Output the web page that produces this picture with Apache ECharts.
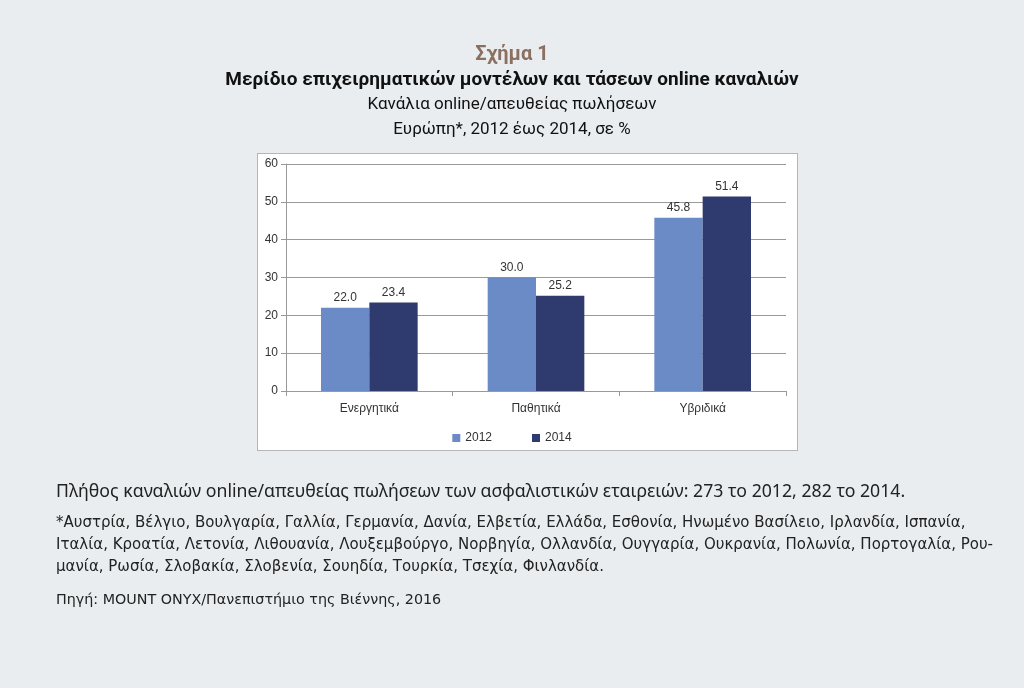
<!DOCTYPE html>
<html><head><meta charset="utf-8">
<script src="https://cdn.jsdelivr.net/npm/echarts@6/dist/echarts.min.js"></script>
<style>html,body{margin:0;padding:0;background:#e9edf0;}#c{width:1024px;height:688px;}</style>
</head><body><div id="c"></div>
<script>
const categories = ['Ενεργητικά', 'Παθητικά', 'Υβριδικά'];
const series2012 = [22.0, 30.0, 45.8];
const series2014 = [23.4, 25.2, 51.4];
const seriesNames = ['2012', '2014'];
const yTicks = {min: 0, max: 60, interval: 10};

const titleLines = [
  'Σχήμα 1',
  'Μερίδιο επιχειρηματικών μοντέλων και τάσεων online καναλιών',
  'Κανάλια online/απευθείας πωλήσεων',
  'Ευρώπη*, 2012 έως 2014, σε %'
];
const noteLine = 'Πλήθος καναλιών online/απευθείας πωλήσεων των ασφαλιστικών εταιρειών: 273 το 2012, 282 το 2014.';
const footLines = [
  '*Αυστρία, Βέλγιο, Βουλγαρία, Γαλλία, Γερμανία, Δανία, Ελβετία, Ελλάδα, Εσθονία, Ηνωμένο Βασίλειο, Ιρλανδία, Ισπανία,',
  'Ιταλία, Κροατία, Λετονία, Λιθουανία, Λουξεμβούργο, Νορβηγία, Ολλανδία, Ουγγαρία, Ουκρανία, Πολωνία, Πορτογαλία, Ρου-',
  'μανία, Ρωσία, Σλοβακία, Σλοβενία, Σουηδία, Τουρκία, Τσεχία, Φινλανδία.'
];
const sourceLine = 'Πηγή: MOUNT ONYX/Πανεπιστήμιο της Βιέννης, 2016';

const chart = echarts.init(document.getElementById('c'), null, {renderer: 'canvas'});
const axisFont = 'Liberation Sans, Arial, sans-serif';
const titleFont = 'Roboto, Noto Sans, sans-serif';
const footFont = '15px "DejaVu Sans", sans-serif';

const option = {
  backgroundColor: '#e9edf0',
  animation: false,
  title: [
    {text: titleLines[0], left: 'center', top: 40, textStyle: {fontFamily: titleFont, fontSize: 20, fontWeight: 'bold', color: '#8b6f60'}},
    {text: titleLines[1], left: 'center', top: 66, textStyle: {fontFamily: titleFont, fontSize: 19, fontWeight: 'bold', color: '#111'}},
    {text: titleLines[2], left: 'center', top: 91, textStyle: {fontFamily: titleFont, fontSize: 17, fontWeight: 'normal', color: '#111'}},
    {text: titleLines[3], left: 'center', top: 116, textStyle: {fontFamily: titleFont, fontSize: 17, fontWeight: 'normal', color: '#111'}}
  ],
  graphic: [
    {type: 'rect', left: 257, top: 153, z: -1, shape: {width: 540, height: 297},
     style: {fill: '#ffffff', stroke: '#777', lineWidth: 1, lineDash: [1, 1]}},
    {type: 'text', left: 56, top: 483, style: {text: noteLine, font: '17.7px "Noto Sans", sans-serif', fill: '#222'}},
    {type: 'text', left: 56, top: 516, style: {text: footLines[0], font: footFont, fill: '#222'}},
    {type: 'text', left: 56, top: 538, style: {text: footLines[1], font: footFont, fill: '#222'}},
    {type: 'text', left: 56, top: 560, style: {text: footLines[2], font: footFont, fill: '#222'}},
    {type: 'text', left: 56, top: 593, style: {text: sourceLine, font: '14.3px "DejaVu Sans", sans-serif', fill: '#222'}}
  ],
  legend: {
    data: seriesNames, left: 'center', top: 427,
    icon: 'rect', itemWidth: 8, itemHeight: 8, itemGap: 40,
    textStyle: {fontFamily: axisFont, fontSize: 12, color: '#333'}
  },
  grid: {left: 286, right: 238, top: 164, bottom: 297, containLabel: false},
  xAxis: {
    type: 'category', data: categories,
    axisLine: {show: true, lineStyle: {color: '#999'}},
    axisTick: {show: true, length: 5, lineStyle: {color: '#999'}},
    axisLabel: {fontFamily: axisFont, fontSize: 12, color: '#333', margin: 12}
  },
  yAxis: {
    type: 'value', min: yTicks.min, max: yTicks.max, interval: yTicks.interval,
    axisLine: {show: true, lineStyle: {color: '#999'}},
    axisTick: {show: true, length: 5, lineStyle: {color: '#999'}},
    splitLine: {show: true, lineStyle: {color: '#999'}},
    axisLabel: {fontFamily: axisFont, fontSize: 12, color: '#333', margin: 8}
  },
  series: [
    {name: seriesNames[0], type: 'bar', data: series2012, barGap: '0%', barCategoryGap: '42%',
     itemStyle: {color: '#6b8bc7'},
     label: {show: true, position: 'top', distance: 4, fontFamily: axisFont, fontSize: 12, color: '#333', formatter: p => p.value.toFixed(1)}},
    {name: seriesNames[1], type: 'bar', data: series2014, barGap: '0%', barCategoryGap: '42%',
     itemStyle: {color: '#2f3a6e'},
     label: {show: true, position: 'top', distance: 4, fontFamily: axisFont, fontSize: 12, color: '#333', formatter: p => p.value.toFixed(1)}}
  ]
};
chart.setOption(option);
</script></body></html>
